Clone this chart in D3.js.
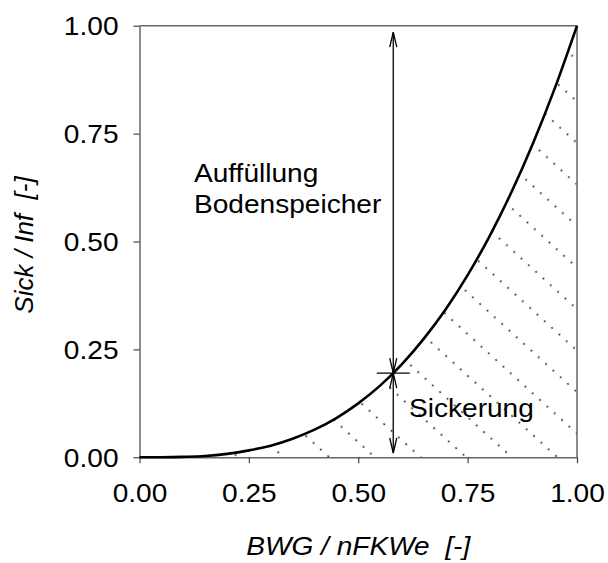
<!DOCTYPE html>
<html>
<head>
<meta charset="utf-8">
<script src="https://cdn.jsdelivr.net/npm/d3@7/dist/d3.min.js"></script>
<style>
    body { margin: 0; background: #fff; }
    svg { display: block; }
    text { font-family: "Liberation Sans", Arial, sans-serif; fill: #000; }
</style>
</head>
<body>
<svg id="chart" width="608" height="563"></svg>
<script>

// values
const bwg  = [0, 0.05, 0.10, 0.15, 0.20, 0.25, 0.30, 0.35, 0.40, 0.45, 0.50,
              0.55, 0.60, 0.65, 0.70, 0.75, 0.80, 0.85, 0.90, 0.95, 1.00];
const sick = [0, 0.0001, 0.001, 0.003, 0.008, 0.016, 0.027, 0.043, 0.064, 0.091, 0.125,
              0.166, 0.216, 0.275, 0.343, 0.422, 0.512, 0.614, 0.729, 0.857, 1.00];

const xTicks = [0, 0.25, 0.50, 0.75, 1.00];
const yTicks = [0, 0.25, 0.50, 0.75, 1.00];

// marked point and arrow ends
const markX = 0.58;
const markY = 0.195;
const arrowEnds = [0.985, 0.01];

const upperLabel = ["Auffüllung", "Bodenspeicher"];
const lowerLabel = "Sickerung";
const xTitle = "BWG / nFKWe\u00a0\u00a0[-]";
const yTitle = "Sick / Inf\u00a0\u00a0[-]";

class CurveChart {

    constructor(svg_element_id) {
        this.svg = d3.select('#' + svg_element_id);
        this.points = bwg.map((v, i) => ({ x: v, y: sick[i] }));
    }

    draw() {
        const svg = this.svg;
        const stretch = "scale(1.08,1)";
        const fontSize = "26px";
        const axisColor = "#666";

        const x = d3.scaleLinear().domain([0, 1]).range([139.5, 577]);
        const y = d3.scaleLinear().domain([0, 1]).range([457.3, 25.7]);

        // dotted hatching pattern
        const defs = svg.append("defs");
        const pat = defs.append("pattern")
            .attr("id", "hatch")
            .attr("patternUnits", "userSpaceOnUse")
            .attr("width", 9.9)
            .attr("height", 30.7)
            .attr("patternTransform", "translate(556,456) rotate(42.3) translate(-4.95,-15.35)");
        pat.append("circle")
            .attr("cx", 4.95)
            .attr("cy", 15.35)
            .attr("r", 0.9)
            .attr("fill", "#111");

        const area = d3.area()
            .x(d => x(d.x))
            .y0(y(0))
            .y1(d => y(d.y))
            .curve(d3.curveMonotoneX);

        svg.append("path")
            .datum(this.points)
            .attr("d", area)
            .attr("fill", "url(#hatch)");

        // frame top and right
        svg.append("line")
            .attr("x1", x(0)).attr("x2", x(1))
            .attr("y1", y(1)).attr("y2", y(1))
            .attr("stroke", axisColor).attr("stroke-width", 1.5);
        svg.append("line")
            .attr("x1", x(1)).attr("x2", x(1))
            .attr("y1", y(1)).attr("y2", y(0))
            .attr("stroke", axisColor).attr("stroke-width", 1.5);

        // x axis
        const fmt = d3.format(".2f");
        const gx = svg.append("g")
            .attr("transform", "translate(0," + y(0) + ")")
            .call(d3.axisBottom(x).tickValues(xTicks).tickFormat(fmt).tickSize(6).tickSizeOuter(0));
        gx.selectAll("text")
            .attr("y", null)
            .attr("dy", null)
            .attr("transform", "translate(0,44.6) " + stretch)
            .style("font-size", fontSize);

        // y axis
        const gy = svg.append("g")
            .attr("transform", "translate(" + x(0) + ",0)")
            .call(d3.axisLeft(y).tickValues(yTicks).tickFormat(fmt).tickSize(6).tickSizeOuter(0));
        gy.selectAll("text")
            .attr("x", null)
            .attr("dy", "0.35em")
            .attr("transform", "translate(-21,0) " + stretch)
            .style("font-size", fontSize);

        [gx, gy].forEach(g => {
            g.select(".domain").attr("stroke", axisColor).attr("stroke-width", 1.5);
            g.selectAll(".tick line").attr("stroke", "#444").attr("stroke-width", 1.2);
        });

        // curve
        const line = d3.line()
            .x(d => x(d.x))
            .y(d => y(d.y))
            .curve(d3.curveMonotoneX);

        svg.append("path")
            .datum(this.points)
            .attr("d", line)
            .attr("fill", "none")
            .attr("stroke", "#000")
            .attr("stroke-width", 2.6);

        // arrows
        const ax = x(markX), py = y(markY);
        const headLen = 15, headW = 3.5;
        const arrows = svg.append("g")
            .attr("fill", "none")
            .attr("stroke", "#000")
            .attr("stroke-width", 1.3);

        arrows.append("line")
            .attr("x1", ax).attr("x2", ax)
            .attr("y1", y(arrowEnds[0])).attr("y2", y(arrowEnds[1]));

        const head = (tipY, dir) => {
            arrows.append("path")
                .attr("d", "M" + (ax - headW) + "," + (tipY + dir * headLen) +
                           "L" + ax + "," + tipY +
                           "L" + (ax + headW) + "," + (tipY + dir * headLen));
        };
        head(y(arrowEnds[0]), 1);
        head(py, -1);
        head(py, 1);
        head(y(arrowEnds[1]), -1);

        arrows.append("line")
            .attr("x1", ax - 16.5).attr("x2", ax + 16.5)
            .attr("y1", py).attr("y2", py);

        // labels
        upperLabel.forEach((t, i) => {
            svg.append("g")
                .attr("transform", "translate(194," + (181.7 + i * 31.6) + ") " + stretch)
                .append("text")
                .style("font-size", fontSize)
                .text(t);
        });

        svg.append("g")
            .attr("transform", "translate(409,417.3) " + stretch)
            .append("text")
            .style("font-size", fontSize)
            .text(lowerLabel);

        // axis titles
        svg.append("g")
            .attr("transform", "translate(" + (x(0) + x(1)) / 2 + ",555) " + stretch)
            .append("text")
            .attr("text-anchor", "middle")
            .style("font-size", fontSize)
            .style("font-style", "italic")
            .text(xTitle);

        svg.append("text")
            .attr("transform", "translate(33,245) rotate(-90)")
            .attr("text-anchor", "middle")
            .style("font-size", fontSize)
            .style("font-style", "italic")
            .text(yTitle);
    }
}

function whenDocumentLoaded(action) {
    if (document.readyState === "loading") {
        document.addEventListener("DOMContentLoaded", action);
    } else {
        action();
    }
}

whenDocumentLoaded(() => {
    const chart = new CurveChart('chart');
    chart.draw();
});
</script>
</body>
</html>
